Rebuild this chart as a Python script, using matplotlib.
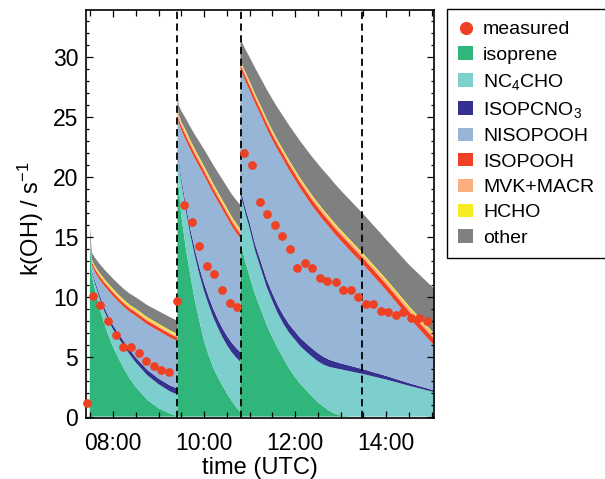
import matplotlib
matplotlib.use("Agg")
import matplotlib.pyplot as plt
from matplotlib.lines import Line2D
from matplotlib.patches import Patch

plt.rcParams['font.family'] = ['Liberation Sans', 'DejaVu Sans']
plt.rcParams['mathtext.fontset'] = 'custom'
plt.rcParams['mathtext.rm'] = 'Liberation Sans'
plt.rcParams['mathtext.default'] = 'regular'

# model time (hours UTC) and stacked contributions to k(OH) in s-1
time = [7.485, 7.49, 7.53, 7.6, 7.7, 7.8, 7.9, 8.0, 8.12, 8.25, 8.37, 8.5, 8.75, 9.0, 9.25, 9.41,
        9.415, 9.44, 9.5, 9.6, 9.7, 9.8, 9.9, 10.0, 10.1, 10.2, 10.3, 10.4, 10.5, 10.6, 10.7, 10.79,
        10.80, 10.9, 11.0, 11.12, 11.25, 11.37, 11.5, 11.62, 11.75, 11.87, 12.0, 12.12, 12.25,
        12.37, 12.5, 12.62, 12.75, 12.87, 13.0, 13.25, 13.5, 14.0, 14.5, 15.05]
isoprene = [0, 14.6, 11.8, 10.6, 9.1, 7.8, 6.75, 5.8, 4.85, 3.9, 3.15, 2.45, 1.4, 0.7, 0.25, 0.05,
            20.3, 19.2, 16.7, 14.0, 11.7, 9.6, 7.9, 6.3, 5.1, 4.1, 3.3, 2.6, 1.95, 1.35, 0.8, 0.4,
            14.5, 13.0, 11.7, 10.2, 8.9, 7.7, 6.6, 5.7, 4.8, 4.0, 3.3, 2.7, 2.2,
            1.7, 1.2, 0.85, 0.5, 0.25, 0.1, 0, 0, 0, 0, 0]
nc4cho = [0, 0, 0.25, 0.5, 0.8, 1.05, 1.25, 1.45, 1.7, 1.9, 2.0, 2.05, 2.05, 2.0, 1.85, 1.8,
          1.8, 2.0, 2.85, 3.15, 3.4, 3.75, 3.9, 4.15, 4.22, 4.2, 4.13, 4.05, 4.02, 4.05, 4.15, 4.2,
          4.1, 4.05, 4.0, 3.65, 3.4, 3.17, 3.05, 2.92, 2.9, 3.0, 3.1, 3.15, 3.2,
          3.31, 3.42, 3.5, 3.65, 3.8, 3.85, 3.75, 3.55, 3.1, 2.58, 2.05]
isopcno3 = [0, 0.05, 0.15, 0.22, 0.27, 0.3, 0.33, 0.35, 0.37, 0.4, 0.41, 0.42, 0.45, 0.47, 0.5, 0.5,
            0.3, 0.3, 0.35, 0.45, 0.5, 0.55, 0.6, 0.65, 0.68, 0.7, 0.72, 0.75, 0.78, 0.8, 0.8, 0.8,
            0.4, 0.45, 0.5, 0.55, 0.6, 0.63, 0.65, 0.68, 0.7, 0.7, 0.7, 0.7, 0.7,
            0.69, 0.68, 0.65, 0.6, 0.55, 0.5, 0.45, 0.4, 0.3, 0.22, 0.15]
nisopooh = [0, 0.2, 0.45, 0.74, 1.27, 1.77, 2.15, 2.45, 2.65, 2.9, 3.16, 3.48, 3.8, 3.98, 4.0, 3.95,
            3.0, 3.03, 3.97, 5.45, 6.65, 7.6, 8.4, 9.0, 9.37, 9.65, 9.82, 9.9, 9.87, 9.75, 9.62, 9.5,
            9.98, 10.54, 11.0, 11.75, 12.2, 12.58, 12.78, 12.92, 12.97, 12.85, 12.65, 12.46, 12.19,
            11.91, 11.66, 11.38, 11.06, 10.65, 10.25, 9.48, 8.73, 7.15, 5.48, 3.77]
isopooh = [0, 0.1, 0.25, 0.27, 0.29, 0.3, 0.3, 0.3, 0.3, 0.3, 0.3, 0.3, 0.3, 0.3, 0.3, 0.3,
           0.35, 0.35, 0.38, 0.4, 0.4, 0.4, 0.4, 0.4, 0.4, 0.4, 0.4, 0.4, 0.4, 0.4, 0.4, 0.4,
           0.4, 0.43, 0.45, 0.45, 0.45, 0.46, 0.46, 0.47, 0.47, 0.48, 0.48, 0.49, 0.49,
           0.5, 0.5, 0.5, 0.5, 0.51, 0.51, 0.52, 0.52, 0.53, 0.54, 0.55]
mvk_macr = [0, 0.05, 0.1, 0.12, 0.14, 0.15, 0.15, 0.15, 0.15, 0.15, 0.15, 0.15, 0.15, 0.15, 0.15, 0.15,
            0.2, 0.2, 0.22, 0.25, 0.25, 0.25, 0.25, 0.25, 0.25, 0.25, 0.25, 0.25, 0.25, 0.25, 0.25, 0.25,
            0.2, 0.21, 0.22, 0.22, 0.22, 0.23, 0.23, 0.23, 0.23, 0.24, 0.24, 0.24, 0.24,
            0.25, 0.25, 0.25, 0.25, 0.25, 0.25, 0.26, 0.26, 0.27, 0.28, 0.28]
hcho = [0, 0.05, 0.1, 0.12, 0.14, 0.15, 0.15, 0.15, 0.15, 0.15, 0.15, 0.15, 0.15, 0.15, 0.15, 0.15,
        0.12, 0.12, 0.13, 0.15, 0.15, 0.15, 0.15, 0.15, 0.15, 0.15, 0.15, 0.15, 0.15, 0.15, 0.15, 0.15,
        0.12, 0.12, 0.13, 0.13, 0.13, 0.13, 0.13, 0.13, 0.13, 0.13, 0.13, 0.13, 0.13,
        0.14, 0.14, 0.14, 0.14, 0.14, 0.14, 0.14, 0.14, 0.15, 0.15, 0.15]
other = [0, 0.75, 0.6, 0.68, 0.74, 0.78, 0.82, 0.85, 0.88, 0.9, 0.93, 0.95, 1.0, 1.05, 1.1, 1.1,
         1.5, 0.8, 0.9, 1.0, 1.1, 1.2, 1.3, 1.4, 1.48, 1.55, 1.63, 1.7, 1.78, 1.85, 1.93, 2.0,
         1.8, 1.9, 2.0, 2.15, 2.3, 2.45, 2.6, 2.7, 2.8, 2.9, 3.0, 3.08, 3.15,
         3.2, 3.25, 3.28, 3.3, 3.3, 3.3, 3.3, 3.3, 3.3, 3.45, 3.75]

# measured k(OH)
meas_t = [7.43, 7.56, 7.72, 7.89, 8.06, 8.22, 8.40, 8.56, 8.73, 8.89, 9.06, 9.23,
          9.40, 9.555, 9.73, 9.89, 10.06, 10.22, 10.39, 10.56, 10.72,
          10.88, 11.05, 11.22, 11.38, 11.55, 11.71, 11.88, 12.04, 12.21, 12.38, 12.54,
          12.71, 12.89, 13.05, 13.22, 13.38, 13.55, 13.71, 13.88, 14.04, 14.21, 14.37,
          14.54, 14.72, 14.89]
meas_k = [1.1, 10.05, 9.3, 7.95, 6.8, 5.85, 5.85, 5.3, 4.6, 4.2, 3.85, 3.7,
          9.65, 17.7, 16.25, 14.2, 12.56, 11.87, 10.56, 9.45, 9.17,
          22.0, 21.0, 17.9, 16.95, 15.97, 15.1, 14.03, 12.37, 12.78, 12.37, 11.53,
          11.33, 11.25, 10.56, 10.56, 9.95, 9.39, 9.39, 8.83, 8.75, 8.47, 8.75,
          8.2, 8.25, 8.0]

events = [9.41, 10.80, 13.48]
xtick_pos = [8, 10, 12, 14]
xtick_labels = ["08:00", "10:00", "12:00", "14:00"]

names = ["isoprene", "NC$_4$CHO", "ISOPCNO$_3$", "NISOPOOH", "ISOPOOH", "MVK+MACR", "HCHO", "other"]
colors = ["#30b57a", "#7ccfcd", "#35318f", "#97b5d6", "#ef4123", "#f9af80", "#f6ec24", "#7f8080"]
red = "#ef4123"

fig = plt.figure(figsize=(6.05, 4.79), dpi=100)
ax = fig.add_axes([0.142, 0.127, 0.575, 0.852])

ax.stackplot(time, isoprene, nc4cho, isopcno3, nisopooh, isopooh, mvk_macr, hcho, other,
             colors=colors, linewidth=0)

for x in events:
    ax.axvline(x, color="black", lw=1.3, ls=(0, (4, 2.5)), zorder=3)

ax.plot(meas_t, meas_k, "o", color=red, ms=6.3, mec="none", zorder=4, clip_on=False)

ax.set_xlim(7.40, 15.05)
ax.set_ylim(-0.13, 33.93)
ax.set_xticks(xtick_pos)
ax.set_xticklabels(xtick_labels)
ax.set_xticks([7.5 + 0.5 * i for i in range(16)], minor=True)
ax.set_yticks([0, 5, 10, 15, 20, 25, 30])
ax.set_yticks(range(0, 34), minor=True)

ax.tick_params(which="both", direction="in", top=True, right=True, width=0.9, labelsize=16.5)
ax.tick_params(axis="y", which="major", length=5, pad=5.5)
ax.tick_params(axis="y", which="minor", length=2.5)
ax.tick_params(axis="x", which="major", length=5, pad=10)
ax.tick_params(axis="x", which="minor", length=4)
for s in ax.spines.values():
    s.set_linewidth(1.2)

ax.set_xlabel("time (UTC)", fontsize=17)
ax.set_ylabel("k(OH) / s$^{-1}$", fontsize=17)
ax.yaxis.set_label_coords(-0.116, 0.49)
ax.xaxis.set_label_coords(0.5, -0.095)

handles = [Line2D([], [], ls="none", marker="o", color=red, ms=9.5, mec="none")]
handles += [Patch(facecolor=c, edgecolor="none") for c in colors]
labels = ["measured"] + names
leg = fig.legend(handles, labels, loc="upper left", bbox_to_anchor=(446.7 / 605, 1 - 9.3 / 479),
                 borderaxespad=0, fontsize=14, frameon=True, fancybox=False,
                 edgecolor="black", framealpha=1, handlelength=0.77, handleheight=0.67,
                 handletextpad=0.5, borderpad=0.6, labelspacing=0.41)
leg.get_frame().set_linewidth(1.0)

fig.savefig("out.png", dpi=100)
